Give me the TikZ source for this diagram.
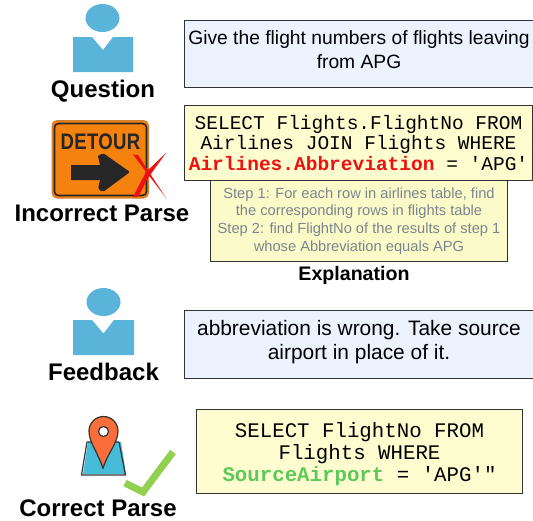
\documentclass[tikz,border=0pt]{standalone}
\usepackage{fontspec}
\setmainfont{Liberation Sans}
\setmonofont{Liberation Mono}
\definecolor{bluebox}{HTML}{EDF3FE}
\definecolor{yellowbox}{HTML}{FDFDD0}
\definecolor{yellowexp}{HTML}{FBFBC9}
\definecolor{grayt}{HTML}{7C858E}
\definecolor{personblue}{HTML}{5AB4DA}
\definecolor{okgreen}{HTML}{5FC85A}
\definecolor{checkgreen}{HTML}{92D050}
\definecolor{badred}{HTML}{EE1111}
\definecolor{signorange}{HTML}{F5820F}
\definecolor{pinorange}{HTML}{FB6E3C}
\definecolor{mapblue}{HTML}{45BCD8}
\definecolor{dark}{HTML}{333333}
\newcommand{\lastlift}{\rule[-9pt]{0pt}{9pt}}
\tikzset{
  x=1pt,y=-1pt,
  textbox/.style={draw=dark,line width=1pt,rectangle,minimum width=#1,inner sep=0pt,align=center,anchor=north west},
  qtext/.style={font=\fontsize{19.25}{23.5}\selectfont,text=black},
  sqltext/.style={font=\ttfamily\fontsize{19.5}{20.7}\selectfont,text=black},
  exptext/.style={font=\fontsize{14.67}{17.6}\selectfont,text=grayt},
  biglabel/.style={font=\bfseries\fontsize{24}{26}\selectfont,text=black,inner sep=0pt},
  explabel/.style={font=\bfseries\fontsize{19.6}{20}\selectfont,text=black,inner sep=0pt}
}
\begin{document}
\begin{tikzpicture}
\useasboundingbox (0,0) rectangle (533,520);
% person icon 1
\fill[personblue] (102.5,18) ellipse [x radius=17,y radius=14];
\fill[personblue] (73,37) -- (92,37) -- (103,50) -- (113,37) -- (133,37) -- (133,72) -- (73,72) -- cycle;
\node[biglabel] (qlabel) at (103,91) {Question};
% question box
\node[textbox=349pt,fill=bluebox,minimum height=67pt,qtext] (qbox) at (184,20) {Give the flight numbers of flights leaving\\from APG\lastlift};
% detour sign
\fill[signorange,draw=brown!70!orange,line width=1pt,rounded corners=5pt] (52,120.5) rectangle (148.5,198);
\draw[black!85,line width=1.6pt,rounded corners=4pt] (54.5,123.5) rectangle (146.5,195.5);
\node[inner sep=0pt,text=black!85,font=\bfseries\fontsize{18}{18}\selectfont] (detour) at (100.5,142) {\scalebox{1.03}[1.25]{\addfontfeature{LetterSpace=2}DETOUR}};
\fill[black!85] (71,165) -- (100,165) -- (98,156) [rounded corners=1.5pt] -- (103,153) -- (130,172) -- (103,192) -- (98,189) [sharp corners] -- (100,180) -- (71,180) -- cycle;
% red cross
\fill[badred] (133,154.5) -- (138,155) -- (166,198) -- cycle;
\fill[badred] (166,153) -- (148,178) -- (138,197) -- (133,197) -- (146,172) -- cycle;
\node[biglabel] (iplabel) at (102,213) {Incorrect Parse};
% explanation box
\node[textbox=297pt,fill=yellowexp,minimum height=81pt,exptext] (expbox) at (210,180) {Step 1: For each row in airlines table, find\\the corresponding rows in flights table\\Step 2: find FlightNo of the results of step 1\\whose Abbreviation equals APG};
% incorrect SQL
\node[textbox=348pt,fill=yellowbox,minimum height=75pt,sqltext] (badsql) at (184,105) {SELECT Flights.FlightNo FROM\\Airlines JOIN Flights WHERE\\\textcolor{badred}{\bfseries Airlines.Abbreviation} = 'APG'};
\node[explabel] (explabel) at (354,275.5) {Explanation};
% person icon 2
\fill[personblue] (103.5,302) ellipse [x radius=17,y radius=14];
\fill[personblue] (73,320) -- (92,320) -- (103.5,333.5) -- (114,320) -- (134,320) -- (134,355) -- (73,355) -- cycle;
\node[biglabel] (fblabel) at (103.5,372) {Feedback};
% feedback box
\node[textbox=349pt,fill=bluebox,minimum height=68pt,font=\fontsize{20.9}{24}\selectfont] (fbbox) at (184,310) {abbreviation is wrong. Take source\\airport in place of it.\lastlift};
% map pin icon
\fill[mapblue] (88,442) -- (121,442) -- (126,474) -- (83,474) -- cycle;
\draw[dark,line width=1.2pt,line join=round] (87,442) -- (119,442) -- (125.5,475) -- (81.5,475) -- cycle;
\fill[pinorange,draw=dark,line width=1.2pt,line join=round] (103,468.5) .. controls (98,452) and (89,443) .. (89,431) arc[start angle=180,end angle=360,radius=14.5] .. controls (118,443) and (108,452) .. (103,468.5) -- cycle;
\fill[white,draw=dark,line width=1.2pt] (103.5,431.5) circle (5);
% check
\draw[checkgreen,line width=7pt,line join=miter] (125,483) -- (143,492) -- (173,452);
\node[biglabel] (cplabel) at (98,508) {Correct Parse};
% correct SQL
\node[textbox=326pt,fill=yellowbox,minimum height=84pt,font=\ttfamily\fontsize{20.75}{22}\selectfont] (goodsql) at (196,409) {\rule{0pt}{20pt}SELECT FlightNo FROM\\Flights WHERE\\\textcolor{okgreen}{\bfseries SourceAirport} = 'APG'"};
\end{tikzpicture}
\end{document}
